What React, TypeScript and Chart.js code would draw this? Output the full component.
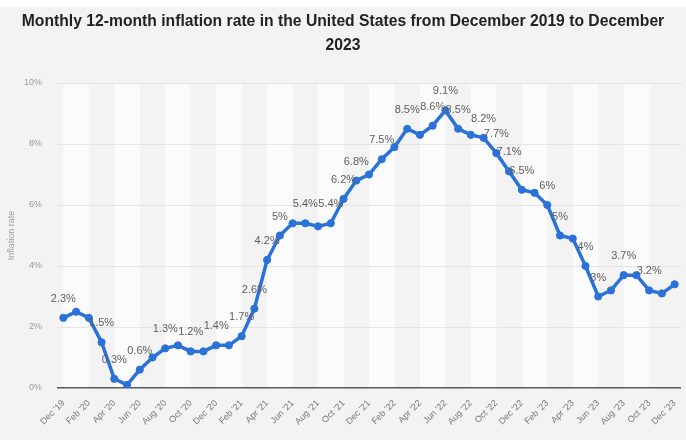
import React, { useEffect, useRef } from "react";
import { Chart, registerables } from "chart.js";

Chart.register(...registerables);

const months: string[] = [
  "Dec '19", "Jan '20", "Feb '20", "Mar '20", "Apr '20", "May '20", "Jun '20", "Jul '20", "Aug '20", "Sep '20", "Oct '20", "Nov '20",
  "Dec '20", "Jan '21", "Feb '21", "Mar '21", "Apr '21", "May '21", "Jun '21", "Jul '21", "Aug '21", "Sep '21", "Oct '21", "Nov '21",
  "Dec '21", "Jan '22", "Feb '22", "Mar '22", "Apr '22", "May '22", "Jun '22", "Jul '22", "Aug '22", "Sep '22", "Oct '22", "Nov '22",
  "Dec '22", "Jan '23", "Feb '23", "Mar '23", "Apr '23", "May '23", "Jun '23", "Jul '23", "Aug '23", "Sep '23", "Oct '23", "Nov '23",
  "Dec '23",
];

const inflationRate: number[] = [
  2.3, 2.5, 2.3, 1.5, 0.3, 0.1, 0.6, 1.0, 1.3, 1.4, 1.2, 1.2,
  1.4, 1.4, 1.7, 2.6, 4.2, 5.0, 5.4, 5.4, 5.3, 5.4, 6.2, 6.8,
  7.0, 7.5, 7.9, 8.5, 8.3, 8.6, 9.1, 8.5, 8.3, 8.2, 7.7, 7.1,
  6.5, 6.4, 6.0, 5.0, 4.9, 4.0, 3.0, 3.2, 3.7, 3.7, 3.2, 3.1,
  3.4,
];

const labelledPoints: number[] = [
  0, 3, 4, 6, 8, 10, 12, 14, 15, 16, 17, 19, 21, 22, 23, 25, 27, 29, 30, 31,
  33, 34, 35, 36, 38, 39, 41, 42, 44, 46,
];

const yTicks: number[] = [0, 2, 4, 6, 8, 10];

const titleLines: string[] = [
  "Monthly 12-month inflation rate in the United States from December 2019 to December",
  "2023",
];

const yAxisTitle = "Inflation rate";

const BLUE = "#2b72d8";
const FONT = '"Liberation Sans", Arial, Helvetica, sans-serif';

const fmt = (v: number) => `${Math.round(v * 10) / 10}%`;

export default function App() {
  const ref = useRef<HTMLCanvasElement | null>(null);

  useEffect(() => {
    document.body.style.margin = "0";
    const canvas = ref.current;
    if (!canvas) return;

    const backgroundPlugin = {
      id: "bgStripes",
      beforeDraw(chart: any) {
        const { ctx, chartArea, scales } = chart;
        ctx.save();
        ctx.fillStyle = "#f3f3f3";
        ctx.fillRect(0, 0, chart.width, chart.height);
        ctx.fillStyle = "#ffffff";
        ctx.fillRect(0, 0, chart.width, 7);
        const x = scales.x;
        ctx.fillStyle = "#fbfbfb";
        for (let i = 0; i + 2 < months.length + 1; i += 4) {
          const a = x.getPixelForValue(i);
          const b = x.getPixelForValue(Math.min(i + 2, months.length - 1));
          ctx.fillRect(a, chartArea.top, b - a, chartArea.bottom - chartArea.top);
        }
        ctx.restore();
      },
    };

    const titlePlugin = {
      id: "customTitle",
      afterDraw(chart: any) {
        const { ctx } = chart;
        ctx.save();
        ctx.font = `bold 15.7px ${FONT}`;
        ctx.fillStyle = "#222222";
        ctx.textAlign = "center";
        ctx.textBaseline = "middle";
        titleLines.forEach((line, i) => {
          ctx.fillText(line, chart.width / 2, 22 + i * 24);
        });
        ctx.restore();
      },
    };

    const valueLabelPlugin = {
      id: "valueLabels",
      afterDatasetsDraw(chart: any) {
        const { ctx } = chart;
        const meta = chart.getDatasetMeta(0);
        ctx.save();
        ctx.font = `11px ${FONT}`;
        ctx.fillStyle = "#5f5f5f";
        ctx.textAlign = "center";
        ctx.textBaseline = "middle";
        labelledPoints.forEach((idx) => {
          const pt = meta.data[idx];
          if (!pt) return;
          ctx.fillText(fmt(inflationRate[idx]), pt.x, pt.y - 19);
        });
        ctx.restore();
      },
    };

    const chart = new Chart(canvas, {
      type: "line",
      data: {
        labels: months,
        datasets: [
          {
            data: inflationRate,
            borderColor: BLUE,
            backgroundColor: BLUE,
            pointBackgroundColor: BLUE,
            pointBorderColor: BLUE,
            borderWidth: 3.5,
            pointRadius: 3.6,
            pointBorderWidth: 1,
            tension: 0,
            fill: false,
          },
        ],
      },
      options: {
        responsive: false,
        animation: false,
        layout: { padding: { top: 83, left: 0, right: 0, bottom: 0 } },
        plugins: {
          legend: { display: false },
          title: { display: false },
          tooltip: { enabled: false },
        },
        scales: {
          x: {
            offset: true,
            grid: { display: false },
            border: { display: false },
            ticks: {
              autoSkip: false,
              maxRotation: 45,
              minRotation: 45,
              padding: 2,
              color: "#777777",
              font: { family: FONT, size: 9 },
              callback: (_v: any, i: number) => (i % 2 === 0 ? months[i] : ""),
            },
            afterFit: (s: any) => {
              s.height = 52;
            },
          },
          y: {
            min: 0,
            max: 10,
            afterBuildTicks: (s: any) => {
              s.ticks = yTicks.map((v) => ({ value: v }));
            },
            grid: {
              drawTicks: false,
              color: (c: any) => (c.tick && c.tick.value === 0 ? "#5a5a5a" : "#e4e4e4"),
              lineWidth: (c: any) => (c.tick && c.tick.value === 0 ? 1.5 : 1),
            },
            border: { display: false },
            ticks: {
              padding: 15,
              color: "#9a9a9a",
              font: { family: FONT, size: 9 },
              callback: (v: any) => `${v}%`,
            },
            title: {
              display: true,
              text: yAxisTitle,
              color: "#a0a0a0",
              font: { family: FONT, size: 9 },
              padding: { top: 6, bottom: 0 },
            },
            afterFit: (s: any) => {
              s.width = 57;
            },
          },
        },
      },
      plugins: [backgroundPlugin, titlePlugin, valueLabelPlugin],
    });

    return () => chart.destroy();
  }, []);

  return (
    <div style={{ width: 686, height: 440 }}>
      <canvas ref={ref} width={686} height={440} style={{ display: "block" }} />
    </div>
  );
}
